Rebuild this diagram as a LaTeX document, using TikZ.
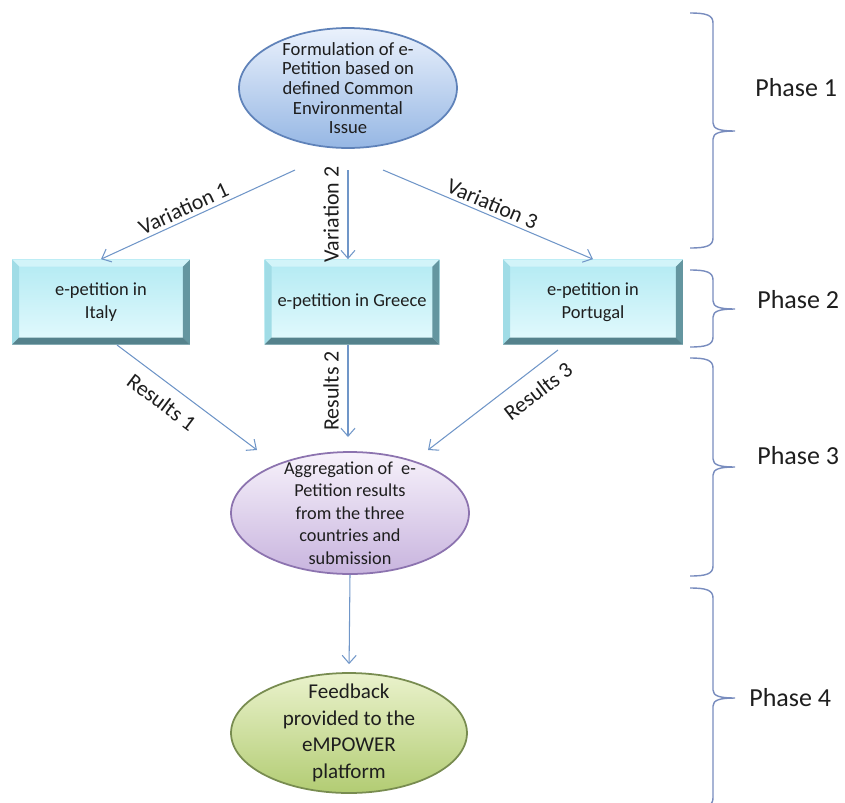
\documentclass[tikz,border=0pt]{standalone}
\usepackage{fontspec}
\setmainfont{Carlito}
\usepackage{tikz}
\usetikzlibrary{shapes.geometric,calc}
\usetikzlibrary{arrows.meta}
\definecolor{arrowblue}{RGB}{112,150,200}
\definecolor{bracecol}{RGB}{120,140,190}
\definecolor{formtop}{RGB}{234,241,252}
\definecolor{formbot}{RGB}{150,183,228}
\definecolor{formedge}{RGB}{95,130,185}
\definecolor{aggtop}{RGB}{247,242,251}
\definecolor{aggbot}{RGB}{200,180,222}
\definecolor{aggedge}{RGB}{140,115,175}
\definecolor{feedtop}{RGB}{234,242,204}
\definecolor{feedbot}{RGB}{178,204,115}
\definecolor{feededge}{RGB}{120,140,80}
\definecolor{boxtop}{RGB}{178,234,243}
\definecolor{boxbot}{RGB}{228,250,253}
\definecolor{bevtop}{RGB}{210,244,249}
\definecolor{bevleft}{RGB}{160,220,230}
\definecolor{bevright}{RGB}{100,150,160}
\definecolor{bevbot}{RGB}{85,130,140}
\definecolor{inktext}{RGB}{30,30,30}
\newcommand{\bw}{0.14cm}
% brace of one phase: top, tip, bottom
\newcommand{\phasebrace}[3]{%
  \draw[bracecol, line width=0.8pt] (690,#1) .. controls (706,#1) and (713,#1+2) .. (713,#1+10)
    -- (713,#2-8) .. controls (713,#2-2) and (720,#2) .. (735,#2)
    .. controls (720,#2) and (713,#2+2) .. (713,#2+8)
    -- (713,#3-10) .. controls (713,#3-2) and (706,#3) .. (690,#3);}

\begin{document}
\begin{tikzpicture}[x=0.02cm,y=-0.02cm, text=inktext,
  flow/.style={draw=arrowblue, line width=0.6pt, -{Straight Barb[length=1.6mm,width=2.8mm]}},
  lbl/.style={font=\fontsize{12.5}{14}\selectfont, inner sep=2pt},
  uplbl/.style={lbl, rotate=90, anchor=south, inner ysep=5pt},
  phase/.style={font=\fontsize{14.8}{16}\selectfont, anchor=west, inner sep=0pt},
  oval/.style={ellipse, inner xsep=0pt, inner ysep=-8pt, align=center, line width=1pt},
  blueoval/.style={oval, minimum width=4.36cm, minimum height=2.4cm, draw=formedge,
    top color=formtop, bottom color=formbot, font=\fontsize{10.6}{11.2}\selectfont},
  purpleoval/.style={oval, minimum width=4.76cm, minimum height=2.44cm, draw=aggedge,
    top color=aggtop, bottom color=aggbot, font=\fontsize{10.4}{12.8}\selectfont},
  greenoval/.style={oval, minimum width=4.72cm, minimum height=2.4cm, draw=feededge,
    top color=feedtop, bottom color=feedbot, font=\fontsize{12}{15.2}\selectfont},
  bevelbox/.style={rectangle, minimum height=1.7cm, inner sep=0pt, align=center,
    top color=boxtop, bottom color=boxbot, font=\fontsize{10.5}{13}\selectfont,
    path picture={
      \coordinate (nw) at (path picture bounding box.north west);
      \coordinate (ne) at (path picture bounding box.north east);
      \coordinate (sw) at (path picture bounding box.south west);
      \coordinate (se) at (path picture bounding box.south east);
      \fill[bevtop] (nw) -- (ne) -- ([shift={(-\bw,-\bw)}]ne) -- ([shift={(\bw,-\bw)}]nw) -- cycle;
      \fill[bevleft] (nw) -- (sw) -- ([shift={(\bw,\bw)}]sw) -- ([shift={(\bw,-\bw)}]nw) -- cycle;
      \fill[bevright] (ne) -- (se) -- ([shift={(-\bw,\bw)}]se) -- ([shift={(-\bw,-\bw)}]ne) -- cycle;
      \fill[bevbot] (sw) -- (se) -- ([shift={(-\bw,\bw)}]se) -- ([shift={(\bw,\bw)}]sw) -- cycle;
    }}]
\useasboundingbox (0,0) rectangle (845,802);

% nodes
\node[blueoval] (form) at (348,88) {Formulation of e-\\Petition based on\\defined Common\\Environmental\\Issue};
\node[bevelbox, minimum width=3.56cm] (italy) at (101,302) {e-petition in\\Italy};
\node[bevelbox, minimum width=3.5cm] (greece) at (352,302) {e-petition in Greece};
\node[bevelbox, minimum width=3.6cm] (portugal) at (593,302) {e-petition in\\Portugal};
\node[purpleoval] (agg) at (350,513) {Aggregation of\ \ e-\\Petition results\\from the three\\countries and\\submission};
\node[greenoval] (feed) at (349,733) {Feedback\\provided to the\\eMPOWER\\platform};

% free ends of the connectors
\coordinate (v1) at (295,170);
\coordinate (v2) at (348,170);
\coordinate (v3) at (383,170);
\coordinate (r1s) at (117,345);
\coordinate (r1e) at (257,450);
\coordinate (r2e) at (348,437);
\coordinate (r3s) at (558,350);
\coordinate (r3e) at (428,450);

% connectors
\draw[flow] (v1) -- node[lbl, sloped, above, pos=0.55] {Variation 1} (italy.north);
\draw[flow] (v2) -- node[uplbl] {Variation 2} (v2 |- greece.north);
\draw[flow] (v3) -- node[lbl, sloped, above, pos=0.5] {Variation 3} (portugal.north);
\draw[flow] (r1s) -- node[lbl, sloped, below, pos=0.4, inner sep=6pt] {Results 1} (r1e);
\draw[flow] (v2 |- greece.south) -- node[uplbl] {Results 2} (r2e);
\draw[flow] (r3s) -- node[lbl, sloped, below, pos=0.25, inner sep=7pt] {Results 3} (r3e);
\draw[flow, shorten >=0.16cm] (agg.south) -- (feed.north);

% phases
\phasebrace{13}{131}{248}
\phasebrace{270}{309}{347}
\phasebrace{358}{467}{576}
\phasebrace{588}{698}{808}
\node[phase] (ph1) at (755,88) {Phase 1};
\node[phase] (ph2) at (757,300) {Phase 2};
\node[phase] (ph3) at (757,456) {Phase 3};
\node[phase] (ph4) at (749,698) {Phase 4};
\end{tikzpicture}
\end{document}
